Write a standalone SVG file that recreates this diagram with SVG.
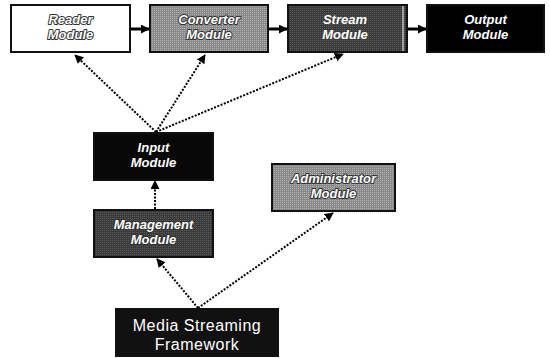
<svg xmlns="http://www.w3.org/2000/svg" width="550" height="358" viewBox="0 0 550 358">
<defs>
<marker id="ah" viewBox="0 0 10 10" refX="9" refY="5" markerWidth="9" markerHeight="9" orient="auto" markerUnits="userSpaceOnUse">
<path d="M0,0 L10,5 L0,10 z" fill="#000"/>
</marker>
<marker id="ad" viewBox="0 0 10 10" refX="9" refY="5" markerWidth="9" markerHeight="9" orient="auto" markerUnits="userSpaceOnUse">
<path d="M0,0 L10,5 L0,10 z" fill="#000"/>
</marker>
<pattern id="dith" width="2" height="2" patternUnits="userSpaceOnUse">
<rect width="2" height="2" fill="#8a8a8a"/>
<rect width="1" height="1" fill="#b0b0b0"/>
</pattern>
<pattern id="dithd" width="2" height="2" patternUnits="userSpaceOnUse">
<rect width="2" height="2" fill="#3a3a3a"/>
<rect width="1" height="1" fill="#5a5a5a"/>
</pattern>
</defs>
<style>
.box{stroke:#111;stroke-width:2}
.t{font-family:"Liberation Sans",Arial,sans-serif;font-size:13px;font-weight:bold;font-style:italic;fill:#fff;text-anchor:middle}
.o{stroke:#333;stroke-width:2;paint-order:stroke;stroke-linejoin:round}
.f{font-family:"Liberation Sans",Arial,sans-serif;font-size:16px;letter-spacing:0.5px;fill:#fff;text-anchor:middle}
.solid{stroke:#000;stroke-width:3;fill:none}
.dot{stroke:#000;stroke-width:2;stroke-dasharray:2 1.5;fill:none}
</style>
<g id="connectors">
<line class="solid" x1="131" y1="29" x2="149" y2="29" marker-end="url(#ah)"/>
<line class="solid" x1="269" y1="29" x2="287" y2="29" marker-end="url(#ah)"/>
<line class="solid" x1="408" y1="29" x2="426" y2="29" marker-end="url(#ah)"/>
<line class="dot" x1="156" y1="132" x2="75" y2="55" marker-end="url(#ad)"/>
<line class="dot" x1="156" y1="132" x2="205" y2="55" marker-end="url(#ad)"/>
<line class="dot" x1="156" y1="132" x2="343" y2="54" marker-end="url(#ad)"/>
<line class="dot" x1="155" y1="209" x2="155" y2="181" marker-end="url(#ad)"/>
<line class="dot" x1="198" y1="308" x2="157" y2="259" marker-end="url(#ad)"/>
<line class="dot" x1="198" y1="308" x2="333" y2="213" marker-end="url(#ad)"/>
</g>
<g id="reader">
<rect class="box" x="11" y="5" width="119" height="47" fill="#fff"/>
<text class="t o" x="70.5" y="24">Reader</text>
<text class="t o" x="70.5" y="39">Module</text>
</g>
<g id="converter">
<rect class="box" x="150" y="5" width="118" height="47" fill="url(#dith)"/>
<text class="t o" x="209" y="24">Converter</text>
<text class="t o" x="209" y="39">Module</text>
</g>
<g id="stream">
<rect class="box" x="288" y="5" width="119" height="47" fill="url(#dithd)"/>
<line x1="403" y1="6" x2="403" y2="51" stroke="#fff" stroke-width="1"/>
<text class="t" x="345" y="24">Stream</text>
<text class="t" x="345" y="39">Module</text>
</g>
<g id="output">
<rect class="box" x="427" y="5" width="117" height="47" fill="#000"/>
<text class="t" x="485.5" y="24">Output</text>
<text class="t" x="485.5" y="39">Module</text>
</g>
<g id="input">
<rect class="box" x="94" y="133" width="119" height="47" fill="#080808"/>
<text class="t" x="153.5" y="152">Input</text>
<text class="t" x="153.5" y="167">Module</text>
</g>
<g id="management">
<rect class="box" x="94" y="210" width="119" height="47" fill="url(#dithd)"/>
<text class="t o" x="153.5" y="229">Management</text>
<text class="t o" x="153.5" y="244">Module</text>
</g>
<g id="administrator">
<rect class="box" x="272" y="164" width="123" height="47" fill="url(#dith)"/>
<text class="t o" x="333.5" y="183">Administrator</text>
<text class="t o" x="333.5" y="198">Module</text>
</g>
<g id="framework">
<rect class="box" x="116" y="309" width="162" height="47" fill="#111"/>
<text class="f" x="197" y="331">Media Streaming</text>
<text class="f" x="197" y="350">Framework</text>
</g>
</svg>
